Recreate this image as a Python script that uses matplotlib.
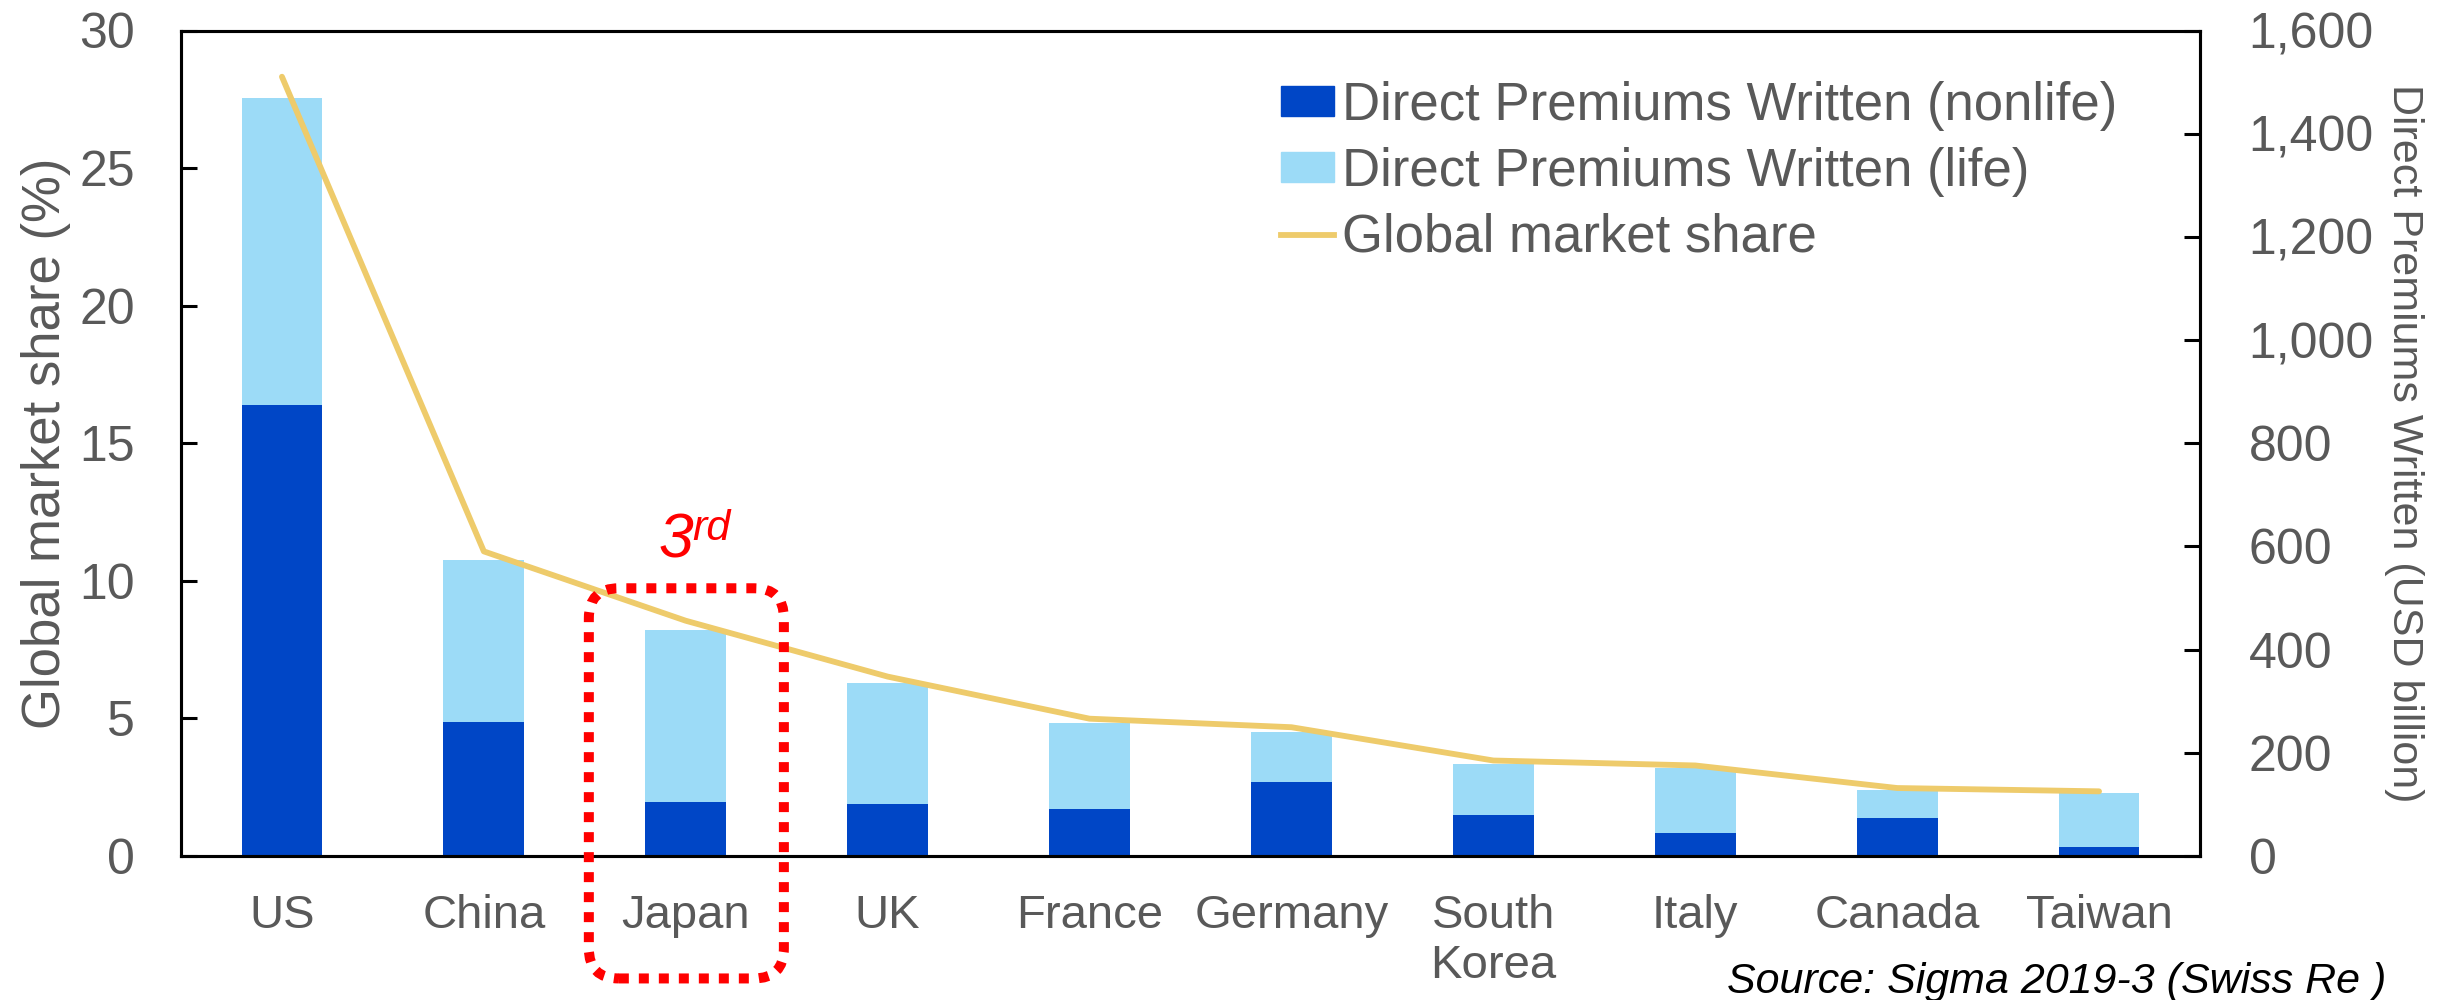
import matplotlib
matplotlib.use('Agg')
import matplotlib.pyplot as plt
import matplotlib.ticker as mticker
from matplotlib.patches import FancyBboxPatch, Patch
from matplotlib.lines import Line2D
from matplotlib.transforms import IdentityTransform
import numpy as np

plt.rcParams['font.family'] = ['Liberation Sans', 'DejaVu Sans']

# ---- data ----
countries = ['US', 'China', 'Japan', 'UK', 'France', 'Germany',
             'South\nKorea', 'Italy', 'Canada', 'Taiwan']
nonlife = [875, 260, 105, 100, 92, 144, 80, 44, 73, 18]      # USD billion
life = [595, 314, 334, 236, 166, 97, 99, 127, 55, 104]       # USD billion
share = [28.32, 11.07, 8.55, 6.52, 4.99, 4.68, 3.47, 3.29, 2.47, 2.35]  # %
left_ticks = [0, 5, 10, 15, 20, 25, 30]
right_ticks = [0, 200, 400, 600, 800, 1000, 1200, 1400, 1600]
legend_labels = ['Direct Premiums Written (nonlife)',
                 'Direct Premiums Written (life)',
                 'Global market share']

DARK = '#0046C6'
LIGHT = '#9CDBF7'
GOLD = '#EECB6B'
GRAY = '#595959'

W, H = 2454, 1000
fig = plt.figure(figsize=(W / 100, H / 100), dpi=100)
ax = fig.add_axes([181 / W, 1 - 856 / H, (2200 - 181) / W, (856 - 30.5) / H])
ax2 = ax.twinx()

x = np.arange(len(countries))
ax2.bar(x, nonlife, width=0.4, color=DARK, zorder=2)
ax2.bar(x, life, bottom=nonlife, width=0.4, color=LIGHT, zorder=2)
ax.plot(x, share, color=GOLD, lw=4.2, solid_capstyle='round',
        solid_joinstyle='round', zorder=3)

ax.set_zorder(ax2.get_zorder() + 1)
ax.patch.set_visible(False)

ax.set_xlim(-0.5, len(countries) - 0.5)
ax.set_ylim(0, 30)
ax2.set_ylim(0, 1600)
ax.set_yticks(left_ticks)
ax2.set_yticks(right_ticks)
ax2.yaxis.set_major_formatter(mticker.StrMethodFormatter('{x:,.0f}'))
ax.set_xticks(x)
ax.set_xticklabels(countries)

ax.tick_params(axis='x', length=0, pad=27, labelsize=34, labelcolor=GRAY)
ax.tick_params(axis='y', direction='in', length=11.5, width=2.2, pad=33,
               labelsize=36, labelcolor=GRAY)
ax2.tick_params(axis='y', direction='in', length=11.5, width=2.2, pad=35,
                labelsize=36, labelcolor=GRAY)

for a in (ax, ax2):
    for sp in a.spines.values():
        sp.set_linewidth(2.2)
        sp.set_color('black')

ax.set_ylabel('Global market share (%)', fontsize=38, color=GRAY, labelpad=6)
ax2.set_ylabel('Direct Premiums Written (USD billion)', fontsize=31,
               color=GRAY, rotation=270, va='bottom', labelpad=7)

handles = [Patch(color=DARK), Patch(color=LIGHT),
           Line2D([], [], color=GOLD, lw=4.2)]
ax.legend(handles, legend_labels, loc='upper left',
          bbox_to_anchor=(1281 / W, 0.919), bbox_transform=fig.transFigure,
          frameon=False, fontsize=38, labelcolor=GRAY, handlelength=1.0,
          handleheight=0.5, handletextpad=0.15, labelspacing=0.30,
          borderpad=0, borderaxespad=0)

# "3rd" annotation
fig.text(659 / W, 1 - 558 / H, '3', color='red', style='italic',
         fontsize=45, ha='left', va='baseline')
fig.text(692 / W, 1 - 540 / H, 'rd', color='red', style='italic',
         fontsize=31, ha='left', va='baseline')

# red dotted rounded box around Japan
j = countries.index('Japan')
(x0, y1) = ax.transData.transform((j - 0.48, 9.73))
(x1, y0) = ax.transData.transform((j + 0.486, -4.45))
box = FancyBboxPatch((x0, y0), x1 - x0, y1 - y0,
                     boxstyle='round,pad=0,rounding_size=30',
                     transform=IdentityTransform(), fill=False,
                     edgecolor='red', lw=7.2, linestyle=(0, (1, 1)),
                     capstyle='butt', zorder=10)
fig.add_artist(box)

fig.text(2386 / W, 1 - 993 / H, 'Source: Sigma 2019-3 (Swiss Re )',
         ha='right', va='baseline', fontsize=31, style='italic',
         color='black')

fig.savefig('out.png', dpi=100)
